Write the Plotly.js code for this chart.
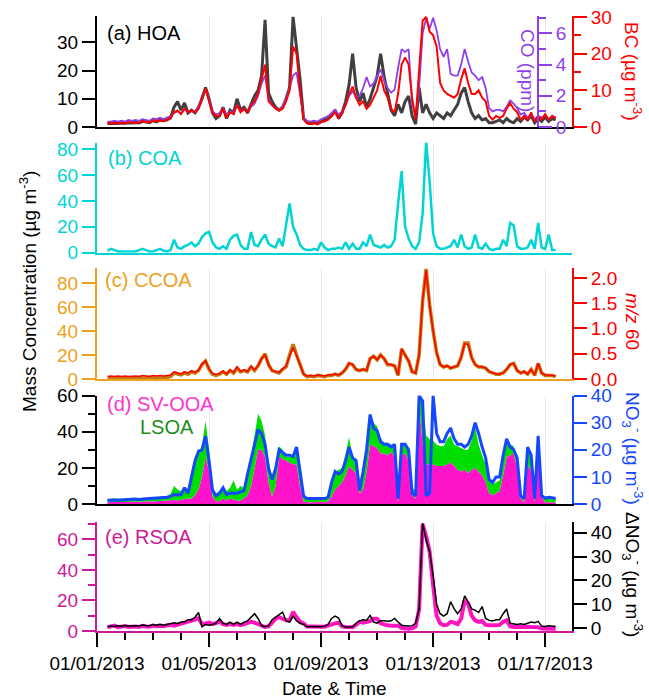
<!DOCTYPE html>
<html>
<head>
<meta charset="utf-8">
<script src="https://cdn.plot.ly/plotly-3.0.1.min.js"></script>
<style>
html, body { margin: 0; padding: 0; background: #fff; }
#chart { width: 649px; height: 700px; }
</style>
</head>
<body>
<div id="chart"></div>
<script>
// Time series sampled every 3 hours, first sample 2013-01-01 09:00
const firstSample = Date.UTC(2013, 0, 1, 9);
const stepHours = 3;

// (a) HOA (ug m-3), BC (ug m-3), CO (ppm)
const hoa = [
  1.2,1.3,1.3,1.2,1.4,1.3,1.5,1.4,
  1.6,1.4,2.0,1.8,1.5,2.2,1.8,2.5,
  2.2,2.5,3.2,7,9,6,8.5,5,
  6,5,7,10,14,10,5,3,
  4,7,3,6,5,10,6,7,
  5,8,11,13,18,38,12,9,
  7,6,7,10,14,39,29,17,
  3,1.5,1.2,1.5,1.2,2,2.5,3,
  4,6,3,5,9,15,26,14,
  9,12,7,10,14,18,26,18,
  12,6,4,8,5,9,11,4,
  1,14,5,8,5,3,5,4,
  3,5,4,6,8,12,14,9,
  5,3,4,2.5,3,1.5,1.5,2,
  2.5,1.5,3,2,1.5,3,2,3.5,
  2.5,4,1.5,3,2,3.5,2,3,
  2.5
];
const bc = [
  1.0,1.0,1.1,1.0,1.2,1.0,1.3,1.2,
  1.3,1.1,1.6,1.4,1.2,1.8,1.5,1.8,
  1.6,2.0,2.5,4,4.5,3.5,5,4,
  4.5,4,5,8,10.5,7,4,3,
  3,5,2.5,4,3.5,6,4,5,
  4,6,7,9,13,17,7,6,
  5,4.5,5,7,10,22,20,10,
  2,1,0.8,1,0.8,1.5,1.5,2,
  3,4,2.5,4,6,9,11,8,
  6,7,5,6,8,10,14,10,
  8,5,4,9,17,19,17,8,
  2,15,29,30,26,25,22,12,
  10,9,8.5,8,9,13,16,12,
  9,9,10,8,7,3,2,3,
  2.5,3,5,6.5,5,4,2,3,
  2,4,1.5,3,2,3.5,2,3,
  2.5
];
const co = [
  0.35,0.35,0.4,0.35,0.4,0.35,0.45,0.4,
  0.45,0.4,0.5,0.45,0.4,0.55,0.5,0.6,
  0.5,0.6,0.7,0.9,1.0,0.9,1.1,1.0,
  1.0,1.0,1.3,2.0,2.4,1.8,1.0,0.8,
  0.9,1.2,0.8,1.0,0.9,1.4,1.0,1.1,
  1.0,1.3,1.5,2.0,2.8,3.3,1.8,1.4,
  1.2,1.1,1.3,1.8,2.5,3.3,3.5,2.0,
  0.6,0.4,0.35,0.4,0.35,0.5,0.6,0.7,
  0.9,1.1,0.8,1.0,1.4,2.0,2.3,1.9,
  2.0,2.5,3.2,2.6,2.8,3.3,3.7,3.0,
  2.5,2.2,2.4,3.8,5.0,4.8,5.0,1.5,
  0.7,2.5,6.0,7.0,6.3,7.0,6.2,5.0,
  4.5,5.0,3.4,3.3,3.3,4.0,5.0,4.2,
  3.5,3.3,3.0,3.2,2.5,1.2,1.0,1.1,
  1.1,1.0,1.3,1.7,1.5,1.2,0.8,0.9,
  0.6,0.8,0.5,0.7,0.6,0.8,0.5,0.7,
  0.6
];

// (b) COA (ug m-3)
const coa = [
  1.5,3,2,1,1,1,1.5,1,
  1,2,3,2,1,1,2,3,
  1.5,1,2,10,4,3,5,6,
  8,5,7,12,15,16,8,4,
  3,5,3,10,13,14,6,3,
  3,16,6,5,10,14,7,5,
  4,11,5,20,38,20,14,6,
  3,2,2,3,2,8,4,2,
  3,3,4,3,8,3,7,3,
  3,8,5,14,6,5,4,6,
  4,5,10,38,63,20,11,5,
  3,8,30,86,55,15,5,3,
  3,4,5,10,4,14,5,3,
  4,14,4,3,7,3,2,3,
  3,10,5,23,21,5,3,3,
  4,10,3,23,4,3,14,2,
  2
];

// (c) CCOA (ug m-3) and m/z 60 signal
const ccoa = [
  0.5,0.5,0.5,0.5,0.5,0.5,0.5,0.5,
  0.5,0.5,0.8,0.5,0.5,1,0.8,1,
  1,1.5,2,5,4,3.5,5,4,
  6,5,7,12,15,8,4,3,
  4,6,4,7,5,9,6,7,
  6,10,7,11,17,21,12,7,
  6,5,8,10,20,29,20,12,
  4,2,2.5,2,3,2.5,2,3,
  3,4,3,5,8,13,12,8,
  7,8,7,17,19,16,20,17,
  12,12,11,3,25,20,15,6,
  5,20,65,92,62,40,22,12,
  10,11,9,10,11,18,30,30,
  18,12,10,10,9,6,5,4,
  4,5,8,12,13,7,5,6,
  4,8,3,13,5,3,3,3,
  2
];
const mz60 = [
  0.05,0.06,0.05,0.06,0.05,0.06,0.05,0.06,
  0.06,0.05,0.07,0.06,0.05,0.07,0.06,0.07,
  0.06,0.07,0.08,0.14,0.12,0.10,0.14,0.12,
  0.16,0.13,0.18,0.30,0.36,0.20,0.11,0.09,
  0.11,0.16,0.10,0.18,0.13,0.24,0.15,0.18,
  0.15,0.25,0.18,0.27,0.40,0.48,0.28,0.17,
  0.15,0.13,0.20,0.25,0.45,0.62,0.46,0.28,
  0.10,0.06,0.07,0.06,0.08,0.07,0.06,0.08,
  0.08,0.10,0.08,0.12,0.20,0.31,0.29,0.19,
  0.17,0.19,0.17,0.40,0.45,0.38,0.47,0.40,
  0.29,0.28,0.26,0.08,0.60,0.47,0.36,0.15,
  0.12,0.47,1.55,2.15,1.45,0.95,0.52,0.29,
  0.24,0.26,0.22,0.24,0.26,0.42,0.70,0.68,
  0.42,0.29,0.24,0.24,0.22,0.15,0.12,0.10,
  0.10,0.12,0.19,0.29,0.31,0.17,0.12,0.15,
  0.10,0.19,0.08,0.31,0.12,0.08,0.08,0.07,
  0.06
];

// (d) SV-OOA and LSOA (stacked, ug m-3), NO3- (ug m-3)
const svooa = [
  1.0,1.2,1.3,1.1,1.2,1.3,1.2,1.4,
  1.3,1.2,1.4,1.3,1.5,1.4,1.6,1.5,
  1.6,1.8,2,2.2,2,2.4,2.5,3,
  3,5,8,15,26,18,4,1.5,
  1.5,3,2,3,2.5,2,2,3,
  5,10,20,30,30,26,12,4,
  10,26,25,24,23,22,22,10,
  1.5,1,1,1.2,1,1.2,1,1.5,
  4,8,10,12,16,21,19,17,
  6,8,18,33,32,31,28,28,
  27,29,26,1,27,28,24,5,
  3,55,33,22,22,22,21,21,
  21,22,23,21,19,18,19,17,
  19,20,18,16,12,6,5,6,
  7,16,26,27,28,20,3,1,
  22,18,1,32,4,1,1,1.2,
  1
];
const lsoa = [
  1.6,1.8,1.9,1.7,1.8,2.0,1.9,2.0,
  1.9,1.8,2.0,1.9,2.0,2.2,2.2,2.0,
  2.2,2.7,3.5,7.8,6,4.6,6.5,5,
  15,20,20,18,20,12,6,4.5,
  5.5,6,5,6,10.5,6,8,6,
  11,16,18,20,16,12,12,11,
  10,6,5,2,3,4,8,6,
  2.5,2,1.5,1.8,1.5,1.8,1.5,1.5,
  6,10,9,8,12,16,7,8,
  7,8,12,14,13,12,8,6,
  7,4,6,1,6,5,6,4,
  4,5,25,16,14,13,12,11,
  11,14,15,12,13,13,11,13,
  16,23,15,11,10,7,6,6,
  6,12,10,6,4,6,2,2,
  8,8,2,8,2,2.5,2.5,2,
  2
];
const no3 = [
  1.4,1.5,1.6,1.5,1.5,1.6,1.7,1.7,
  1.8,1.7,1.9,1.9,2.0,2.1,2.2,2.2,
  2.3,2.5,2.8,3.5,3.4,3.4,6,4,
  10,16,19.5,20,25,16,5,3,
  4,6,3.5,4,4,4,4.5,5,
  11,16,22,27.5,26,22,13,9,
  13,20,19,18,18,17.5,21,11,
  3,2,2,2,1.8,2,2,2.5,
  8,12,11,12,16,21,17,16,
  5,12,20,33,28,27,23,22,
  22,21,22,2,22,22,20,4,
  3,40,38,3,4,40,26,23,
  23,26,28,24,22,22,21,22,
  25,30,26,21,17,9,8,10,
  10,18,24,21,20,17,3,2,
  21,18,2,25,3,2.2,2.5,2.3,
  2
];

// (e) RSOA (ug m-3) and delta NO3- (ug m-3)
const rsoa = [
  2.5,2.8,3.5,2.5,2.8,3.2,2.6,3.0,
  3.0,2.6,3.4,3.0,2.8,3.6,3.2,3.5,
  3.2,3.8,4.0,3.5,4.2,4.5,5,6,
  7,7.5,8.5,4.5,5,5.5,4.5,5,
  6,4.5,4,4.5,4,4.5,3.8,4.5,
  5,6,5.5,4.5,3,2.6,3,6,
  8,9,8,7,7,12.5,9,6,
  5,3,3,2.8,3.2,3,2.8,3.5,
  4.5,5,5.5,3,2.6,2.8,2.5,4,
  6,5.5,6,6.5,8,8,5,4,
  3.7,3.5,3.7,3.5,2,1.5,1.5,1.8,
  3,14,70,62,52,30,10,5,
  3.8,4,6,5.5,4.5,8,20,18,
  10,7,6,6.5,4,3.7,3.5,3.8,
  4,6,7,3,2.6,2.8,2.5,2.6,
  2.8,2.6,2.5,2.4,1.6,1.5,1.6,1.5,
  1.4
];
const dno3 = [
  0.5,0.8,0.6,0.9,0.7,1.0,0.8,1.0,
  1.0,0.9,1.3,1.1,1.0,1.5,1.2,1.6,
  1.2,1.5,2.0,2.2,1.8,2.5,2.5,3.5,
  3.5,4.5,6.5,0.5,1.5,1.2,1.5,2,
  4,2,1.5,2.5,1.5,2.5,1.5,2.5,
  3,4.5,6,4,1,0.5,1,3.5,
  4.5,5.5,6.7,3,2.5,5,3,2,
  1.5,0.5,0.6,0.4,0.6,0.5,0.8,1.5,
  4,5,4.2,1,0.3,0.4,0.5,2,
  3,3.5,3.2,5.3,2.5,2,3,3,
  2.8,3,4,2.5,1.2,1,0.8,1,
  2,8,44,37,32,22,10,6,
  5,6,11,8,6,8,13.5,11,
  8,7.5,6.5,9,4,3.2,3,3.5,
  3.5,6,8,2,1.8,1.5,1.8,1.5,
  2,2.5,2.2,2.8,0.8,0.6,0.9,0.7,
  0.6
];

const times = hoa.map((_, i) => {
  const d = new Date(firstSample + i * stepHours * 3600e3);
  return d.toISOString().slice(0, 16).replace('T', ' ');
});

const DAY = 86400000;
const FONT = 'Liberation Sans, Arial, Helvetica, sans-serif';
const C = {
  hoa: '#404040', red: '#ff0000', co: '#8f3fe8', coa: '#00d4d4',
  ccoaAxis: '#f0a020', ccoa: '#c27a08', sv: '#ff14cc', ls: '#00dd00',
  lsLabel: '#1e8c1e', no3: '#1447ff', rsoaAxis: '#cc1a99', rsoa: '#ff14c0',
  grid: '#ebebeb'
};

function yAxis(color, extra) {
  return Object.assign({
    showline: true, linewidth: 2, linecolor: color,
    ticks: 'outside', ticklen: 13, tickwidth: 2, tickcolor: color,
    tickfont: { size: 19, color: color, family: FONT },
    showgrid: false, zeroline: false, fixedrange: true
  }, extra);
}
function minor(color, step) {
  return { dtick: step, ticks: 'outside', ticklen: 7, tickwidth: 2, tickcolor: color, showgrid: false };
}
function xPanel(anchor, lineColor) {
  return {
    type: 'date', matches: 'x', anchor: anchor, domain: [0, 1],
    tick0: '2013-01-01', dtick: 4 * DAY, ticks: '', showticklabels: false,
    showline: true, linecolor: lineColor, linewidth: 2,
    showgrid: true, gridcolor: C.grid, gridwidth: 1, zeroline: false, fixedrange: true
  };
}

const traces = [
  { x: times, y: hoa, xaxis: 'x2', yaxis: 'y', type: 'scatter', mode: 'lines', line: { color: C.hoa, width: 3 } },
  { x: times, y: co, xaxis: 'x2', yaxis: 'y2', type: 'scatter', mode: 'lines', line: { color: C.co, width: 1.8 } },
  { x: times, y: bc, xaxis: 'x2', yaxis: 'y3', type: 'scatter', mode: 'lines', line: { color: C.red, width: 2 } },
  { x: times, y: coa, xaxis: 'x3', yaxis: 'y4', type: 'scatter', mode: 'lines', line: { color: C.coa, width: 2.5 } },
  { x: times, y: ccoa, xaxis: 'x4', yaxis: 'y5', type: 'scatter', mode: 'lines', line: { color: C.ccoa, width: 3.5 } },
  { x: times, y: mz60, xaxis: 'x4', yaxis: 'y6', type: 'scatter', mode: 'lines', line: { color: C.red, width: 1.5 } },
  { x: times, y: svooa, xaxis: 'x5', yaxis: 'y7', type: 'scatter', mode: 'lines', stackgroup: 'oa',
    fillcolor: C.sv, line: { color: C.sv, width: 0 } },
  { x: times, y: lsoa, xaxis: 'x5', yaxis: 'y7', type: 'scatter', mode: 'lines', stackgroup: 'oa',
    fillcolor: C.ls, line: { color: C.ls, width: 0 } },
  { x: times, y: no3, xaxis: 'x5', yaxis: 'y8', type: 'scatter', mode: 'lines', line: { color: C.no3, width: 3 } },
  { x: times, y: rsoa, xaxis: 'x', yaxis: 'y9', type: 'scatter', mode: 'lines', line: { color: C.rsoa, width: 4 } },
  { x: times, y: dno3, xaxis: 'x', yaxis: 'y10', type: 'scatter', mode: 'lines', line: { color: '#000', width: 1.5 } }
];

function note(text, x, y, color, size, angle, xanchor) {
  return {
    text: text, x: x, y: y, xref: 'paper', yref: 'paper', showarrow: false,
    xanchor: xanchor || 'center', yanchor: 'middle', textangle: angle || 0,
    font: { family: FONT, size: size, color: color }
  };
}

const layout = {
  width: 649, height: 700,
  margin: { l: 97, r: 77, t: 10, b: 69 },
  paper_bgcolor: '#fff', plot_bgcolor: '#fff',
  showlegend: false,
  font: { family: FONT, size: 19, color: '#000' },

  xaxis: {
    type: 'date', anchor: 'y9', domain: [0, 1],
    range: ['2013-01-01 00:00', '2013-01-17 23:00'],
    tick0: '2013-01-01', dtick: 4 * DAY, tickformat: '%m/%d/%Y',
    ticks: 'outside', ticklen: 14, tickwidth: 2, tickcolor: '#000',
    minor: { dtick: DAY, ticks: 'outside', ticklen: 7, tickwidth: 2, tickcolor: '#000', showgrid: false },
    showline: true, linecolor: C.rsoaAxis, linewidth: 2,
    showgrid: true, gridcolor: C.grid, gridwidth: 1, zeroline: false, fixedrange: true,
    tickfont: { size: 19, color: '#000', family: FONT }
  },
  xaxis2: xPanel('y', '#000'),
  xaxis3: xPanel('y4', C.coa),
  xaxis4: xPanel('y5', C.ccoaAxis),
  xaxis5: xPanel('y7', '#000'),

  yaxis: yAxis('#000', { domain: [0.8116, 0.9911], range: [0, 39.5], dtick: 10, anchor: 'x2' }),
  yaxis2: yAxis(C.co, { overlaying: 'y', anchor: 'free', position: 0.9284, side: 'right',
    range: [0, 7.15], dtick: 2, minor: minor(C.co, 1) }),
  yaxis3: yAxis(C.red, { overlaying: 'y', anchor: 'x2', side: 'right',
    range: [0, 30.4], dtick: 10, minor: minor(C.red, 5) }),
  yaxis4: yAxis(C.coa, { domain: [0.6092, 0.7863], range: [0, 85], dtick: 20, anchor: 'x3' }),
  yaxis5: yAxis(C.ccoaAxis, { domain: [0.4058, 0.5841], range: [0, 92.5], dtick: 20, anchor: 'x4' }),
  yaxis6: yAxis(C.red, { overlaying: 'y5', anchor: 'x4', side: 'right',
    range: [0, 2.19], dtick: 0.5, tickformat: '.1f' }),
  yaxis7: yAxis('#000', { domain: [0.2045, 0.3792], range: [0, 60.1], dtick: 20, anchor: 'x5',
    minor: minor('#000', 10) }),
  yaxis8: yAxis(C.no3, { overlaying: 'y7', anchor: 'x5', side: 'right', range: [0, 40], dtick: 10 }),
  yaxis9: yAxis(C.rsoaAxis, { domain: [0, 0.176], range: [0, 71.5], dtick: 20, anchor: 'x',
    minor: minor(C.rsoaAxis, 10) }),
  yaxis10: yAxis('#000', { overlaying: 'y9', anchor: 'x', side: 'right', range: [-1.25, 44.6], dtick: 10, tick0: 0 }),

  annotations: [
    note('(a) HOA', 0.0168, 0.963, '#000', 20, 0, 'left'),
    note('(b) COA', 0.019, 0.7617, C.coa, 20, 0, 'left'),
    note('(c) CCOA', 0.0126, 0.5652, C.ccoaAxis, 20, 0, 'left'),
    note('(d) SV-OOA', 0.0168, 0.3655, '#ff33cc', 20, 0, 'left'),
    note('LSOA', 0.0863, 0.3285, C.lsLabel, 20, 0, 'left'),
    note('(e) RSOA', 0.0126, 0.1514, C.rsoaAxis, 20, 0, 'left'),

    note('Mass Concentration (µg m<sup>-3</sup>)', -0.1453, 0.5475, '#000', 19, -90),
    note('Date &amp; Time', 0.5, -0.0925, '#000', 19, 0),
    note('CO (ppm)', 0.9053, 0.9034, C.co, 19, 90),
    note('BC (µg m<sup>-3</sup>)', 1.1284, 0.9002, C.red, 19, 90),
    note('<i>m/z</i> 60', 1.1263, 0.4976, C.red, 19, 90),
    note('NO<sub>3</sub><sup>-</sup> (µg m<sup>-3</sup>)', 1.1263, 0.2931, C.no3, 19, 90),
    note('ΔNO<sub>3</sub><sup>-</sup> (µg m<sup>-3</sup>)', 1.1263, 0.0902, '#000', 19, 90)
  ]
};

Plotly.newPlot('chart', traces, layout, { displayModeBar: false, staticPlot: true });
</script>
</body>
</html>
